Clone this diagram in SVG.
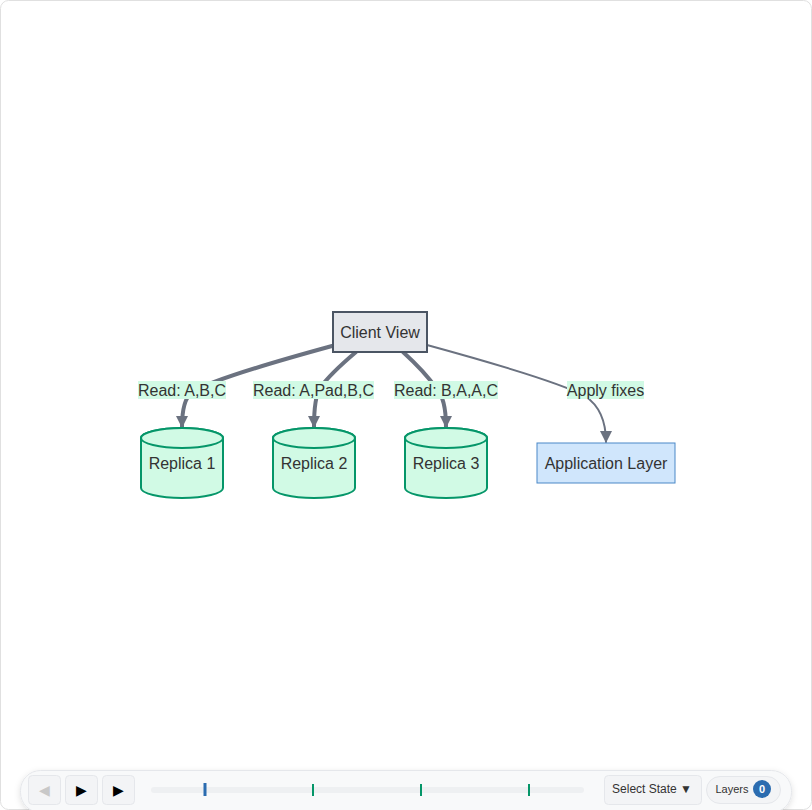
<svg xmlns="http://www.w3.org/2000/svg" width="812" height="810" viewBox="0 0 812 810">
<style>
.t{font-family:"Liberation Sans",Arial,sans-serif;font-size:16px;fill:#333;text-anchor:middle;dominant-baseline:central}
.lbl{fill:#d1fae5}
.cyl{fill:#d1fae5;stroke:#059669;stroke-width:2}
.e{fill:none;stroke:#6b7280;stroke-linecap:round}
.btn{fill:#f3f4f6;stroke:#e5e7eb;stroke-width:1}
.ui{font-family:"Liberation Sans",Arial,sans-serif;text-anchor:middle;dominant-baseline:central}
</style>
<defs>
<marker id="ah" viewBox="0 0 12 12" refX="11" refY="6" markerWidth="12" markerHeight="12" markerUnits="userSpaceOnUse" orient="auto">
<path d="M0,0 L12,6 L0,12 Z" fill="#6b7280"/>
</marker>
<filter id="sh" x="-5%" y="-50%" width="110%" height="200%">
<feDropShadow dx="0" dy="2" stdDeviation="3" flood-color="#000" flood-opacity="0.12"/>
</filter>
</defs>
<rect x="0.5" y="0.5" width="811" height="809" rx="8" fill="#fff" stroke="#e0e0e0"/>
<g id="connectors">
<path class="e" stroke-width="4" d="M332,346 Q215,378 192,392 Q182,400 182,427" marker-end="url(#ah)"/>
<path class="e" stroke-width="4" d="M356,352 Q330,374 320,388 Q314,398 314,427" marker-end="url(#ah)"/>
<path class="e" stroke-width="4" d="M403,352 Q425,372 436,388 Q446,398 446,427" marker-end="url(#ah)"/>
<path class="e" stroke-width="2" d="M427,345 Q555,380 585,396 Q606,410 606,442" marker-end="url(#ah)"/>
<rect class="lbl" x="138" y="381" width="88" height="18"/>
<text class="t" x="182" y="390">Read: A,B,C</text>
<rect class="lbl" x="253" y="381" width="121" height="18"/>
<text class="t" x="313.5" y="390">Read: A,Pad,B,C</text>
<rect class="lbl" x="394" y="381" width="104" height="18"/>
<text class="t" x="446" y="390">Read: B,A,A,C</text>
<rect class="lbl" x="567" y="381" width="77" height="18"/>
<text class="t" x="605.5" y="390">Apply fixes</text>
</g>
<g id="client-view">
<rect x="333" y="312" width="94" height="40" fill="#e5e7eb" stroke="#4b5563" stroke-width="2"/>
<text class="t" x="380" y="332">Client View</text>
</g>
<g id="replica-1">
<path class="cyl" d="M141,438 L141,488 A41,10 0 0 0 223,488 L223,438 A41,10 0 0 0 141,438 Z"/>
<ellipse class="cyl" cx="182" cy="438" rx="41" ry="10"/>
<text class="t" x="182" y="463">Replica 1</text>
</g>
<g id="replica-2">
<path class="cyl" d="M273,438 L273,488 A41,10 0 0 0 355,488 L355,438 A41,10 0 0 0 273,438 Z"/>
<ellipse class="cyl" cx="314" cy="438" rx="41" ry="10"/>
<text class="t" x="314" y="463">Replica 2</text>
</g>
<g id="replica-3">
<path class="cyl" d="M405,438 L405,488 A41,10 0 0 0 487,488 L487,438 A41,10 0 0 0 405,438 Z"/>
<ellipse class="cyl" cx="446" cy="438" rx="41" ry="10"/>
<text class="t" x="446" y="463">Replica 3</text>
</g>
<g id="application-layer">
<rect x="537" y="443" width="138" height="40" fill="#d0e6fc" stroke="#4a88c7" stroke-width="1"/>
<text class="t" x="606" y="463">Application Layer</text>
</g>
<g id="toolbar">
<rect x="20.5" y="770.5" width="771" height="42" rx="20" fill="#f8f9fa" stroke="#e5e7eb" filter="url(#sh)"/>
<rect class="btn" x="28.5" y="775.5" width="32" height="29" rx="4"/>
<text class="ui" x="44.5" y="790" font-size="14" fill="#c8c8c8">◀</text>
<rect class="btn" x="65.5" y="775.5" width="32" height="29" rx="4"/>
<text class="ui" x="81.5" y="790" font-size="14" fill="#000">▶</text>
<rect class="btn" x="102.5" y="775.5" width="32" height="29" rx="4"/>
<text class="ui" x="118.5" y="790" font-size="14" fill="#000">▶</text>
<rect x="151" y="787" width="433" height="6" rx="3" fill="#eef0f2"/>
<rect x="203.5" y="783" width="3" height="13" fill="#2b6cb0"/>
<rect x="312" y="784" width="2" height="12" fill="#059669"/>
<rect x="420" y="784" width="2" height="12" fill="#059669"/>
<rect x="528" y="784" width="2" height="12" fill="#059669"/>
<rect class="btn" x="604.5" y="775.5" width="97" height="29" rx="4"/>
<text class="ui" x="652" y="789" font-size="12" fill="#333">Select State ▼</text>
<rect x="706.5" y="776.5" width="74" height="27" rx="13.5" fill="#f3f4f6" stroke="#e5e7eb"/>
<text class="ui" x="732" y="789" font-size="11" fill="#333">Layers</text>
<circle cx="762" cy="789" r="9" fill="#2b6cb0"/>
<text class="ui" x="762" y="789" font-size="11" font-weight="bold" fill="#fff">0</text>
</g>
</svg>
